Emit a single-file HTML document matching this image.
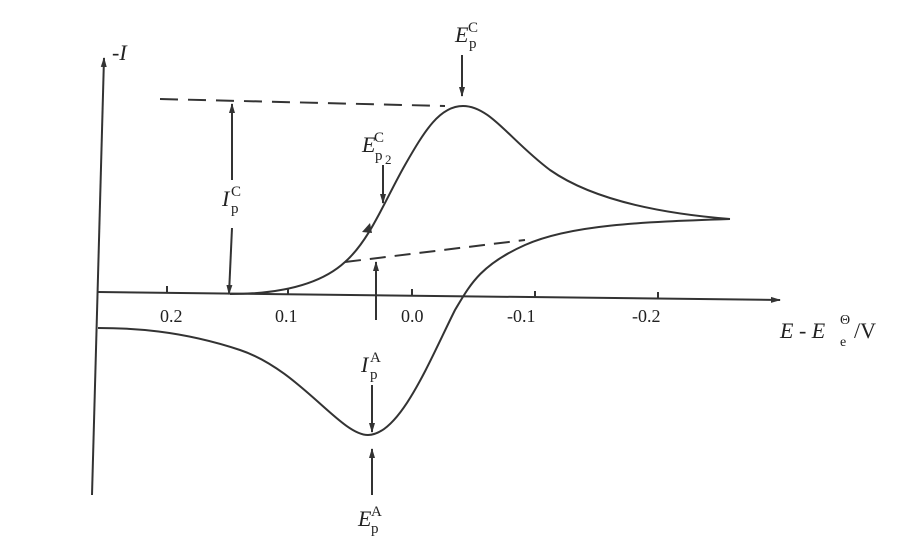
<!DOCTYPE html>
<html><head><meta charset="utf-8"><style>
html,body{margin:0;padding:0;background:#fff;}
svg{display:block;}
text{font-family:"Liberation Serif",serif;fill:#222;}
</style></head><body>
<svg width="921" height="543" viewBox="0 0 921 543" xmlns="http://www.w3.org/2000/svg">
<defs>
<marker id="a" markerWidth="10" markerHeight="10" refX="9" refY="5" orient="auto" markerUnits="userSpaceOnUse">
<path d="M0,2 L10,5 L0,8 Z" fill="#333"/></marker>
</defs>
<g stroke="#333" stroke-width="2" fill="none">
<line x1="92" y1="495" x2="104" y2="58" marker-end="url(#a)"/>
<line x1="98" y1="292" x2="780" y2="300" marker-end="url(#a)"/>
<line x1="167" y1="286" x2="167" y2="293"/>
<line x1="288" y1="288" x2="288" y2="294"/>
<line x1="412" y1="289" x2="412" y2="296"/>
<line x1="535" y1="291" x2="535" y2="297"/>
<line x1="658" y1="292" x2="658" y2="299"/>
<line x1="160" y1="99" x2="445" y2="106" stroke-dasharray="18,10"/>
<line x1="345" y1="262" x2="525" y2="240" stroke-dasharray="16,9"/>
<path d="M230,294 C280,294 320,285 345,262 C370,240 385,200 405,165 C425,130 440,106 463,106 C490,106 510,140 550,170 C600,205 680,215 730,219"/>
<path d="M730,219 C640,222 570,225 525,245 C480,265 470,285 455,310 C430,360 400,435 368,435 C340,435 300,370 240,350 C180,330 130,328 98,328"/>
<line x1="232" y1="180" x2="232" y2="104" marker-end="url(#a)"/>
<line x1="232" y1="228" x2="229" y2="294" marker-end="url(#a)"/>
<line x1="462" y1="55" x2="462" y2="96" marker-end="url(#a)"/>
<line x1="383" y1="165" x2="383" y2="203" marker-end="url(#a)"/>
<line x1="376" y1="320" x2="376" y2="262" marker-end="url(#a)"/>
<line x1="372" y1="385" x2="372" y2="432" marker-end="url(#a)"/>
<line x1="372" y1="495" x2="372" y2="449" marker-end="url(#a)"/>
</g>
<path d="M362,232 l8,-9 l2,10 z" fill="#333"/>
<g font-size="18">
<text x="160" y="322">0.2</text>
<text x="275" y="322">0.1</text>
<text x="401" y="322">0.0</text>
<text x="507" y="322">-0.1</text>
<text x="632" y="322">-0.2</text>
<text x="112" y="60" font-style="italic" font-size="22">-I</text>
<text x="780" y="338" font-style="italic" font-size="22">E - E</text>
<text x="840" y="324" font-size="14">Θ</text>
<text x="840" y="346" font-size="14">e</text>
<text x="854" y="338" font-size="22">/V</text>
<text x="455" y="42" font-style="italic" font-size="22">E</text>
<text x="468" y="32" font-size="15">C</text>
<text x="469" y="48" font-size="15">p</text>
<text x="362" y="152" font-style="italic" font-size="22">E</text>
<text x="374" y="142" font-size="15">C</text>
<text x="375" y="160" font-size="15">p</text>
<text x="385" y="164" font-size="13">2</text>
<text x="222" y="206" font-style="italic" font-size="22">I</text>
<text x="231" y="196" font-size="15">C</text>
<text x="231" y="213" font-size="15">p</text>
<text x="361" y="372" font-style="italic" font-size="22">I</text>
<text x="370" y="362" font-size="15">A</text>
<text x="370" y="379" font-size="15">p</text>
<text x="358" y="526" font-style="italic" font-size="22">E</text>
<text x="371" y="516" font-size="15">A</text>
<text x="371" y="533" font-size="15">p</text>
</g>
</svg>
</body></html>
